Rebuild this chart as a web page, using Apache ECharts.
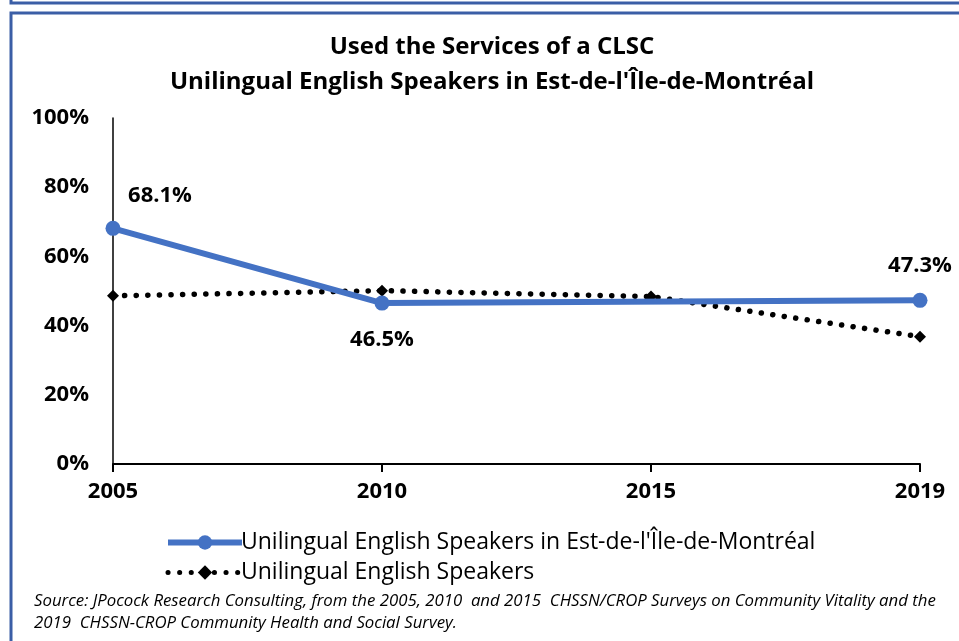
<!DOCTYPE html>
<html lang="en">
<head>
    <meta charset="UTF-8">
    <title>Used the Services of a CLSC</title>
    <style>
        html,body{
            width: 100%;
            height: 100%;
            margin: 0;
            padding: 0;
            background: #fff;
        }
    </style>
</head>
<body>
<div id="main" style="width: 959px;height:641px;"></div>

<script src="https://cdn.jsdelivr.net/npm/echarts@6/dist/echarts.min.js"></script>
<script>
    // data
    var years = ['2005', '2010', '2015', '2019'];
    var estMontreal = [68.1, 46.5, null, 47.3];
    var allUnilingual = [48.6, 50.1, 48.4, 36.8];
    var seriesNames = [
        "Unilingual English Speakers in Est-de-l'Île-de-Montréal",
        'Unilingual English Speakers'
    ];

    var font = 'Open Sans';
    var frameColor = '#3b5ea6';
    var dots = [0.1, 11.5];

    // label placement for the blue line points
    var labelStyle = [
        {position: 'top', distance: 8, offset: [47, -6]},
        {position: 'bottom', distance: 18},
        null,
        {position: 'top', distance: 16}
    ];

    var blueData = estMontreal.map(function (v, i) {
        var d = {value: v};
        if (v !== null && labelStyle[i]) {
            d.label = labelStyle[i];
        }
        return d;
    });

    var myChart = echarts.init(document.getElementById('main'));

    myChart.setOption({
        animation: false,
        textStyle: {fontFamily: font},
        title: {
            text: 'Used the Services of a CLSC\nUnilingual English Speakers in Est-de-l\'Île-de-Montréal',
            left: 487,
            textAlign: 'center',
            top: 25,
            textStyle: {
                fontFamily: font,
                fontWeight: 'bold',
                fontSize: 24,
                lineHeight: 35,
                color: '#000'
            }
        },
        legend: {
            orient: 'vertical',
            left: 160,
            top: 526,
            itemWidth: 74,
            itemHeight: 18,
            itemGap: 7,
            data: [
                {name: seriesNames[0], lineStyle: {width: 6}},
                {name: seriesNames[1], lineStyle: {width: 5, type: dots, cap: 'round'}, itemStyle: {color: '#000'}}
            ],
            textStyle: {
                fontFamily: font,
                fontSize: 23,
                color: '#000',
                padding: [0, 0, 0, -6]
            }
        },
        grid: {
            left: 113,
            right: 39,
            top: 118,
            bottom: 177
        },
        xAxis: {
            type: 'category',
            data: years,
            boundaryGap: false,
            axisLine: {lineStyle: {color: '#000', width: 2}},
            axisTick: {show: true, length: 8, lineStyle: {color: '#000', width: 2}},
            axisLabel: {
                margin: 17,
                fontFamily: font,
                fontWeight: 'bold',
                fontSize: 22,
                color: '#000'
            },
            splitLine: {show: false}
        },
        yAxis: {
            type: 'value',
            min: 0,
            max: 100,
            interval: 20,
            axisLine: {show: true, lineStyle: {color: '#000', width: 1.5}},
            axisTick: {show: false},
            axisLabel: {
                margin: 24,
                formatter: '{value}%',
                fontFamily: font,
                fontWeight: 'bold',
                fontSize: 22,
                color: '#000'
            },
            splitLine: {show: false}
        },
        series: [
            {
                name: seriesNames[0],
                type: 'line',
                data: blueData,
                connectNulls: true,
                symbol: 'circle',
                symbolSize: 15,
                z: 3,
                lineStyle: {color: '#4472c4', width: 6},
                itemStyle: {color: '#4472c4'},
                label: {
                    show: true,
                    formatter: function (p) {
                        return p.value == null ? '' : p.value.toFixed(1) + '%';
                    },
                    fontFamily: font,
                    fontWeight: 'bold',
                    fontSize: 22,
                    color: '#000'
                }
            },
            {
                name: seriesNames[1],
                type: 'line',
                data: allUnilingual,
                symbol: 'diamond',
                symbolSize: 12,
                z: 2,
                lineStyle: {color: '#000', width: 5.5, type: dots, cap: 'round'},
                itemStyle: {color: '#000'}
            }
        ],
        graphic: [
            {
                type: 'polyline',
                shape: {points: [[11, 0], [11, 3], [959, 3]]},
                style: {stroke: frameColor, lineWidth: 3, fill: null}
            },
            {
                type: 'polyline',
                shape: {points: [[11, 641], [11, 13], [959, 13]]},
                style: {stroke: frameColor, lineWidth: 3, fill: null}
            },
            {
                type: 'text',
                left: 34,
                top: 590,
                style: {
                    text: 'Source: JPocock Research Consulting, from the 2005, 2010  and 2015  CHSSN/CROP Surveys on Community Vitality and the\n2019  CHSSN-CROP Community Health and Social Survey.',
                    fontFamily: font,
                    fontStyle: 'italic',
                    fontSize: 16.8,
                    lineHeight: 22,
                    fill: '#000'
                }
            }
        ]
    });
</script>
</body>
</html>
